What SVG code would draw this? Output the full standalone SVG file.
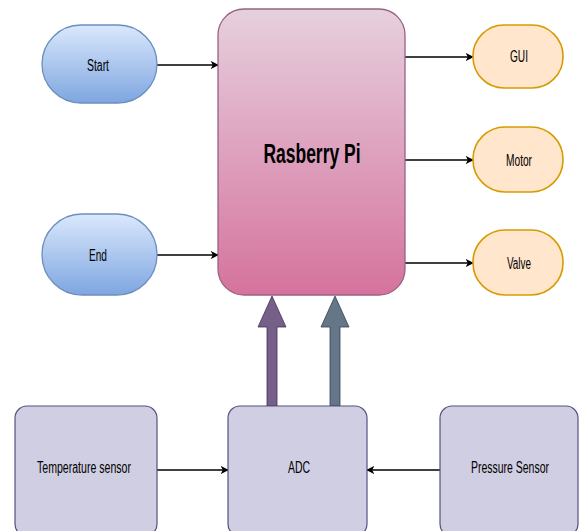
<svg xmlns="http://www.w3.org/2000/svg" width="579" height="531" viewBox="0 0 579 531">
<defs>
<linearGradient id="gBlue" x1="0" y1="0" x2="0" y2="1"><stop offset="0" stop-color="#dae8fc"/><stop offset="1" stop-color="#7ea6e0"/></linearGradient>
<linearGradient id="gPink" x1="0" y1="0" x2="0" y2="1"><stop offset="0" stop-color="#e6d0de"/><stop offset="1" stop-color="#d5739d"/></linearGradient>
<marker id="ah" viewBox="0 0 10 10" refX="9" refY="5" markerWidth="8" markerHeight="8" markerUnits="userSpaceOnUse" orient="auto">
<path d="M0,0 L10,5 L0,10 L2.5,5 Z" fill="#000"/>
</marker>
<style>
.blue{fill:url(#gBlue);stroke:#6c8ebf;stroke-width:1.3}
.pink{fill:url(#gPink);stroke:#996185;stroke-width:1.3}
.orange{fill:#ffe6cc;stroke:#d79b00;stroke-width:1.6}
.lav{fill:#d0cee2;stroke:#56517e;stroke-width:1.2}
.t{font-family:"Liberation Sans",Arial,sans-serif;font-size:16px;fill:#000;text-anchor:middle}
.tb{font-family:"Liberation Sans",Arial,sans-serif;font-size:27px;font-weight:bold;fill:#000;text-anchor:middle}
.c{stroke:#000;stroke-width:1.3;fill:none;marker-end:url(#ah)}
</style>
</defs>
<g id="connectors">
<line class="c" x1="157" y1="65" x2="218" y2="65"/>
<line class="c" x1="157" y1="255" x2="218" y2="255"/>
<line class="c" x1="405" y1="57" x2="473" y2="57"/>
<line class="c" x1="405" y1="160" x2="473" y2="160"/>
<line class="c" x1="405" y1="263" x2="473" y2="263"/>
<line class="c" x1="157" y1="470" x2="228" y2="470"/>
<line class="c" x1="440" y1="470" x2="367" y2="470"/>
<polygon points="267,406 267,327 258,327 272,296 286,327 277,327 277,406" fill="#76608a" stroke="#432d57" stroke-width="0.8"/>
<polygon points="330,406 330,327 321,327 335,296 349,327 340,327 340,406" fill="#647687" stroke="#314354" stroke-width="0.8"/>
</g>
<g id="start"><rect class="blue" x="42" y="25" width="115" height="78" rx="39"/><text class="t" x="98" y="71" textLength="22" lengthAdjust="spacingAndGlyphs">Start</text></g>
<g id="end"><rect class="blue" x="42" y="214" width="115" height="81" rx="40"/><text class="t" x="98" y="261" textLength="18" lengthAdjust="spacingAndGlyphs">End</text></g>
<g id="rpi"><rect class="pink" x="218" y="9" width="187" height="286" rx="26"/><text class="tb" x="312" y="163" textLength="97" lengthAdjust="spacingAndGlyphs">Rasberry Pi</text></g>
<g id="gui"><rect class="orange" x="473" y="25" width="90" height="63" rx="31"/><text class="t" x="519" y="62" textLength="18" lengthAdjust="spacingAndGlyphs">GUI</text></g>
<g id="motor"><rect class="orange" x="473" y="127" width="90" height="65" rx="32"/><text class="t" x="519" y="166" textLength="26" lengthAdjust="spacingAndGlyphs">Motor</text></g>
<g id="valve"><rect class="orange" x="473" y="230" width="90" height="65" rx="32"/><text class="t" x="519" y="269" textLength="24" lengthAdjust="spacingAndGlyphs">Valve</text></g>
<g id="temp"><rect class="lav" x="15" y="406" width="142" height="130" rx="12"/><text class="t" x="84" y="473" textLength="94" lengthAdjust="spacingAndGlyphs">Temperature sensor</text></g>
<g id="adc"><rect class="lav" x="228" y="406" width="139" height="130" rx="12"/><text class="t" x="299" y="473" textLength="22" lengthAdjust="spacingAndGlyphs">ADC</text></g>
<g id="pressure"><rect class="lav" x="440" y="406" width="138" height="130" rx="12"/><text class="t" x="510" y="473" textLength="78" lengthAdjust="spacingAndGlyphs">Pressure Sensor</text></g>
</svg>
